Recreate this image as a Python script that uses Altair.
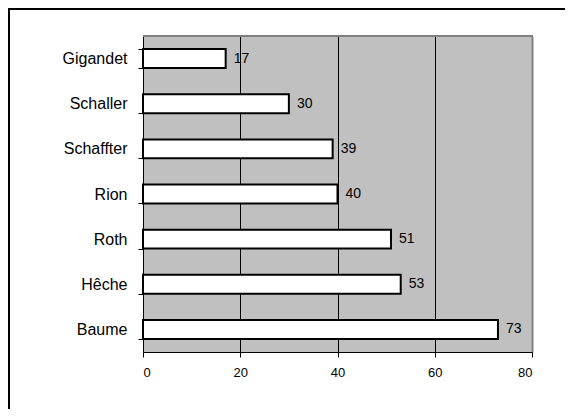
import altair as alt
import pandas as pd

names = ["Gigandet", "Schaller", "Schaffter", "Rion", "Roth", "Hêche", "Baume"]
values = [17, 30, 39, 40, 51, 53, 73]
ticks_x = [0, 20, 40, 60, 80]

df = pd.DataFrame({"name": names, "value": values})
one = pd.DataFrame({"a": [0]})

W, H = 389, 316
PL, PT, PR, PB = 135, 28, 33, 57
FONT = "Liberation Sans"

y_enc = alt.Y(
    "name:N",
    sort=names,
    scale=alt.Scale(paddingInner=0.58, paddingOuter=0.29),
    axis=alt.Axis(
        title=None, labelFontSize=16, labelColor="black", labelFont=FONT,
        tickSize=5, tickColor="black", domainColor="black", domainWidth=1,
        labelPadding=11, tickBand="extent", grid=False,
    ),
)
x_enc = alt.X(
    "value:Q",
    scale=alt.Scale(domain=[0, 80], nice=False),
    axis=alt.Axis(
        values=ticks_x, title=None, labelFontSize=13, labelColor="black",
        labelFont=FONT, tickSize=5, tickColor="black", domainColor="black",
        labelPadding=9, grid=True,
        gridColor={"condition": {"test": "datum.value === 80", "value": "#808080"}, "value": "black"},
        gridWidth={"condition": {"test": "datum.value === 80", "value": 2}, "value": 1},
        gridOpacity=1,
    ),
)

bars = alt.Chart(df).mark_bar(fill="white", stroke="black", strokeWidth=2).encode(
    x=x_enc, y=y_enc
)
labels = alt.Chart(df).mark_text(
    align="left", baseline="middle", dx=8, fontSize=14, font=FONT, color="black"
).encode(x="value:Q", y=alt.Y("name:N", sort=names), text="value:Q")

top_border = alt.Chart(one).mark_rule(color="#808080", strokeWidth=2).encode(
    x=alt.value(0), x2=alt.value(W + 1), y=alt.value(0)
)
frame_left = alt.Chart(one).mark_rule(color="black", strokeWidth=2).encode(
    x=alt.value(-PL + 1), y=alt.value(-PT), y2=alt.value(H + PB)
)
frame_top = alt.Chart(one).mark_rule(color="black", strokeWidth=2).encode(
    x=alt.value(-PL), x2=alt.value(W + PR), y=alt.value(-PT + 1)
)

chart = alt.layer(bars, labels, top_border, frame_left, frame_top).properties(
    width=W, height=H,
    autosize=alt.AutoSizeParams(type="none"),
    padding={"left": PL, "top": PT, "right": PR, "bottom": PB},
    background="white",
).configure_view(fill="#c0c0c0", stroke="transparent")

chart.save("out.html", embed_options={"renderer": "svg", "actions": False})
